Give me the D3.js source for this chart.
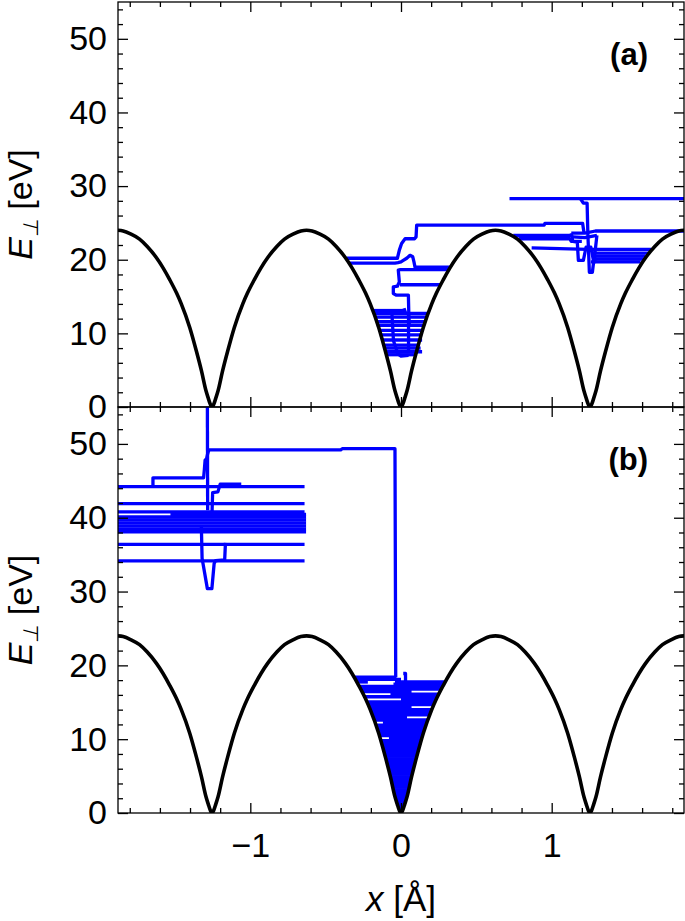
<!DOCTYPE html>
<html><head><meta charset="utf-8">
<script src="https://cdn.jsdelivr.net/npm/d3@7"></script>
<style>html,body{margin:0;padding:0;background:#fff}</style>
</head><body>
<svg id="c" width="685" height="921"></svg>
<script>
// ---------------- data ----------------
const xDomain = [-1.878, 1.878];
const yDomain = [0, 55];
const xMajorTicks = [-1, 0, 1];
const xTickLabels = ["\u22121", "0", "1"];
const xMinorTicks = [-1.8,-1.6,-1.4,-1.2,-0.8,-0.6,-0.4,-0.2,0.2,0.4,0.6,0.8,1.2,1.4,1.6,1.8];
const yMajorTicks = [0, 10, 20, 30, 40, 50];
const yMinorTicks = [2,4,6,8,12,14,16,18,22,24,26,28,32,34,36,38,42,44,46,48,52,54];
const panelLabels = ["(a)", "(b)"];

// continuum potential: well minima and one half-well profile [dx, U]
const wellCenters = [-1.254, 0, 1.254];
const wellProfile = [[0,0],[0.012,0.4],[0.025,1.2],[0.04,2.2],[0.07,4.9],[0.104,7.6],[0.148,10.8],
  [0.204,14.0],[0.236,15.5],[0.281,17.3],[0.325,18.9],[0.37,20.3],[0.43,21.8],[0.481,22.8],
  [0.541,23.5],[0.59,23.9],[0.627,24.0]];

// panel (a) trajectories [x, E]
const trajA = [
  [[0.72,28.3],[1.878,28.3]],
  [[1.19,28.3],[1.21,27.7],[1.235,27.7],[1.24,23.5],[1.245,21.0],[1.25,18.3],[1.27,18.3],[1.28,20.0],[1.30,20.1]],
  [[1.215,23.6],[1.205,24.95],[0.955,24.95],[0.95,24.7],[0.104,24.7],[0.1,23.1],[0.09,22.85],[0.027,22.85],
   [0.004,22.2],[-0.011,21.3],[-0.024,20.2],[-0.36,20.2]],
  [[-0.35,19.55],[-0.04,19.55],[-0.02,19.6],[0.0,19.7],[0.015,19.9],[0.038,20.2],[0.06,20.6],[0.078,20.4],
   [0.086,19.7],[0.093,19.0],[0.325,19.0]],
  [[0.32,18.65],[-0.005,18.65],[-0.018,18.6],[-0.011,17.0],[-0.024,16.4],[-0.051,16.3],[-0.051,15.4],
   [-0.033,15.2],[0.049,15.2],[0.052,12.5],[0.055,11.0]],
  [[-0.007,16.6],[0.26,16.6]],
  [[0.745,23.3],[1.13,23.3]],
  [[0.78,22.85],[1.12,22.85],[1.13,22.5],[1.2,22.5]],
  [[1.13,23.6],[1.22,23.6],[1.29,23.9],[1.878,23.9]],
  [[0.867,21.6],[1.24,21.4],[1.66,21.4]],
  [[1.27,20.9],[1.64,20.9]],
  [[1.27,20.5],[1.62,20.5]],
  [[1.27,20.1],[1.61,20.1]],
  [[1.26,19.7],[1.59,19.7]],
  [[1.13,23.6],[1.14,22.5],[1.17,22.4],[1.177,19.9],[1.21,19.9],[1.228,21.7],[1.26,21.7],[1.28,19.6],[1.30,23.3]],
  [[1.14,23.1],[1.22,23.0],[1.30,23.3]],
  [[0.02,13.4],[0.03,12.8],[0.05,12.6],[0.05,7.5]],
  [[-0.06,12.6],[-0.05,9.0],[-0.02,7.2],[0.0,6.9],[0.05,7.0]]
];
// panel (a) channelled segments [E, x1, x2]
const clusterA = [[13.1,-0.184,0.02],[12.7,-0.18,0.18],[12.2,-0.175,0.175],[11.6,-0.165,0.165],
  [11.1,-0.16,0.155],[10.4,-0.15,0.15],[9.8,-0.14,0.14],[9.1,-0.13,0.14],[8.4,-0.12,0.12],
  [8.0,-0.115,0.13],[7.5,-0.1,0.14],[7.1,-0.09,0.10]];

// panel (b) trajectories [x, E]
const trajB = [
  [[-1.285,56],[-1.283,41.0]],
  [[-1.278,49.2],[-0.4,49.2],[-0.39,49.35],[-0.04,49.35],[-0.035,18.4]],
  [[-1.646,44.2],[-1.646,45.4],[-1.31,45.4],[-1.305,46.5],[-1.30,47.8],[-1.29,48.0],[-1.285,48.5],[-1.275,49.2]],
  [[-1.06,44.55],[-1.2,44.55],[-1.215,43.5],[-1.25,43.4],[-1.255,40.0]],
  [[-1.325,39.0],[-1.32,34.5],[-1.285,30.4],[-1.255,30.4],[-1.24,33.8],[-1.23,34.2],[-1.17,34.3],[-1.165,36.6]],
  [[0.015,18.9],[0.03,18.9],[0.03,17.2]]
];
// panel (b) over-barrier lines [E, x1, x2]
const linesB = [[44.2,-1.878,-0.64],[41.9,-1.878,-0.64],[40.8,-1.878,-0.64],[40.45,-1.53,-0.63],
  [40.1,-1.878,-0.63],[39.7,-1.878,-0.63],[39.3,-1.878,-0.63],[38.9,-1.878,-0.63],[38.5,-1.878,-0.63],
  [38.1,-1.878,-0.63],[36.4,-1.878,-0.64],[34.15,-1.878,-0.64]];
// panel (b) channelled energies (full oscillation between walls)
const wellB = [17.15,16.8,15.75,15.05,14.7,14.0,13.65,13.3,12.6,11.9,11.55,11.2,10.85,10.5,9.8,
  9.45,9.1,8.75,8.4,8.05,7.7,7.35,7.0,6.65,6.3,5.95,5.6,5.25,4.9,4.55,4.2,3.85,3.5,3.15,2.8,2.45,2.1,
  1.75,1.4,1.05,0.7,0.35];
// panel (b) partial channelled segments [E, x1, x2] (null = potential wall)
const wellBPartial = [[18.4,null,-0.03],[18.1,null,0.0],[17.75,null,-0.22],[17.75,-0.04,null],
  [17.45,-0.05,null],[16.45,null,0.07],[16.1,-0.07,null],[15.4,0.0,null],[14.35,null,0.07],
  [12.95,null,0.04],[12.25,-0.12,null],[10.15,-0.08,null]];

// ---------------- drawing ----------------
const svg = d3.select("#c");
const L = 118, R = 684;
const panels = [{top: 2, bottom: 407}, {top: 407, bottom: 813}];
const x = d3.scaleLinear().domain(xDomain).range([L, R]);
const ys = panels.map(p => d3.scaleLinear().domain(yDomain).range([p.bottom, p.top]));
const FONT = "'Liberation Sans', Arial, Helvetica, sans-serif";
const BLUE = "#0000ff";

// potential points
let pot = [];
wellCenters.forEach(c => wellProfile.forEach(([dx, U]) => { pot.push([c - dx, U]); pot.push([c + dx, U]); }));
pot.sort((a, b) => a[0] - b[0]);
pot = pot.filter((d, i) => i === 0 || Math.abs(d[0] - pot[i - 1][0]) > 1e-6);

function turn(E) {
  for (let i = 1; i < wellProfile.length; i++) {
    if (wellProfile[i][1] >= E) {
      const [x0, u0] = wellProfile[i - 1], [x1, u1] = wellProfile[i];
      return x0 + (E - u0) / (u1 - u0) * (x1 - x0);
    }
  }
  return wellProfile[wellProfile.length - 1][0];
}

const defs = svg.append("defs");
panels.forEach((p, i) => {
  defs.append("clipPath").attr("id", "clip" + i).append("rect")
    .attr("x", L).attr("y", p.top).attr("width", R - L).attr("height", p.bottom - p.top);
});

panels.forEach((p, i) => {
  const y = ys[i];
  const g = svg.append("g");
  const plot = g.append("g").attr("clip-path", `url(#clip${i})`);
  const line = d3.line().x(d => x(d[0])).y(d => y(d[1]));
  const blue = plot.append("g").attr("fill", "none").attr("stroke", BLUE)
    .attr("stroke-width", 3.3).attr("stroke-linejoin", "round");

  if (i === 0) {
    blue.selectAll("path.h").data(clusterA).join("path").attr("class", "h")
      .attr("d", d => line([[d[1], d[0]], [d[2], d[0]]]));
    blue.selectAll("path.t").data(trajA).join("path").attr("class", "t").attr("d", line);
  } else {
    blue.selectAll("path.l").data(linesB).join("path").attr("class", "l")
      .attr("d", d => line([[d[1], d[0]], [d[2], d[0]]]));
    blue.selectAll("path.w").data(wellB).join("path").attr("class", "w")
      .attr("d", E => line([[-turn(E), E], [turn(E), E]]));
    blue.selectAll("path.p").data(wellBPartial).join("path").attr("class", "p")
      .attr("d", d => line([[d[1] === null ? -turn(d[0]) : d[1], d[0]], [d[2] === null ? turn(d[0]) : d[2], d[0]]]));
    blue.selectAll("path.t").data(trajB).join("path").attr("class", "t").attr("d", line);
  }

  plot.append("path").datum(pot).attr("fill", "none").attr("stroke", "#000")
    .attr("stroke-width", 3.6)
    .attr("d", d3.line().x(d => x(d[0])).y(d => y(d[1])).curve(d3.curveMonotoneX));

  // axes
  const ax = [];
  ax.push(g.append("g").attr("transform", `translate(0,${p.bottom})`)
    .call(d3.axisBottom(x).tickValues(xMajorTicks).tickSize(-10)
      .tickFormat(i === 1 ? (d => xTickLabels[xMajorTicks.indexOf(d)]) : "")));
  ax.push(g.append("g").attr("transform", `translate(0,${p.bottom})`)
    .call(d3.axisBottom(x).tickValues(xMinorTicks).tickSize(-5).tickFormat("")));
  ax.push(g.append("g").attr("transform", `translate(0,${p.top})`)
    .call(d3.axisTop(x).tickValues(xMajorTicks).tickSize(-10).tickFormat("")));
  ax.push(g.append("g").attr("transform", `translate(0,${p.top})`)
    .call(d3.axisTop(x).tickValues(xMinorTicks).tickSize(-5).tickFormat("")));
  ax.push(g.append("g").attr("transform", `translate(${L},0)`)
    .call(d3.axisLeft(y).tickValues(yMajorTicks).tickSize(-10).tickPadding(11)));
  ax.push(g.append("g").attr("transform", `translate(${L},0)`)
    .call(d3.axisLeft(y).tickValues(yMinorTicks).tickSize(-5).tickFormat("")));
  ax.push(g.append("g").attr("transform", `translate(${R},0)`)
    .call(d3.axisRight(y).tickValues(yMajorTicks).tickSize(-10).tickFormat("")));
  ax.push(g.append("g").attr("transform", `translate(${R},0)`)
    .call(d3.axisRight(y).tickValues(yMinorTicks).tickSize(-5).tickFormat("")));
  ax.forEach(a => {
    a.select(".domain").remove();
    a.selectAll(".tick line").attr("stroke", "#000").attr("stroke-width", 1.3);
    a.selectAll("text").attr("font-family", FONT).attr("font-size", 34).attr("fill", "#000");
  });
  ax[0].selectAll("text").attr("y", 44).attr("dy", 0);

  g.append("rect").attr("x", L).attr("y", p.top).attr("width", R - L).attr("height", p.bottom - p.top)
    .attr("fill", "none").attr("stroke", "#000").attr("stroke-width", 1.3);

  // y label
  const yl = g.append("text").attr("transform", `translate(32,${(p.top + p.bottom) / 2}) rotate(-90)`)
    .attr("text-anchor", "middle").attr("font-family", FONT).attr("font-size", 34).attr("fill", "#000");
  yl.append("tspan").attr("font-style", "italic").text("E");
  yl.append("tspan").attr("font-style", "italic").attr("font-size", 21).attr("dy", 6).text("\u22a5");
  yl.append("tspan").attr("dy", -6).text(" [eV]");

  // panel label
  g.append("text").attr("x", 648).attr("y", p.top + 63).attr("text-anchor", "end")
    .attr("font-family", FONT).attr("font-weight", "bold").attr("font-size", 31).attr("fill", "#000")
    .text(panelLabels[i]);
});

// x label
const xl = svg.append("text").attr("x", 401).attr("y", 911).attr("text-anchor", "middle")
  .attr("font-family", FONT).attr("font-size", 35).attr("fill", "#000");
xl.append("tspan").attr("font-style", "italic").text("x");
xl.append("tspan").text(" [\u00c5]");
</script>
</body></html>
